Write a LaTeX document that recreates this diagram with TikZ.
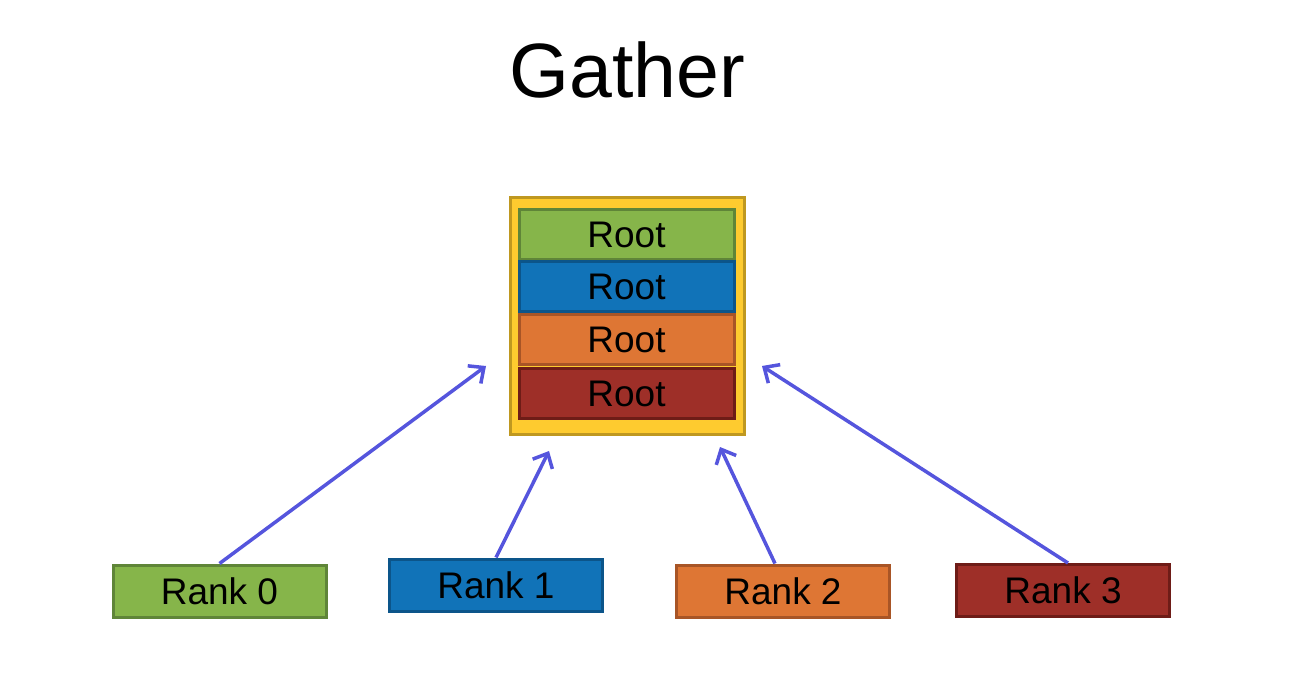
\documentclass[tikz,border=0pt]{standalone}
\usepackage{fontspec}
\setmainfont{Liberation Sans}
\usetikzlibrary{arrows.meta}
\definecolor{gGreen}{HTML}{86B54A}
\definecolor{gGreenD}{HTML}{5F8538}
\definecolor{gBlue}{HTML}{1173B8}
\definecolor{gBlueD}{HTML}{0C558A}
\definecolor{gOrange}{HTML}{DE7634}
\definecolor{gOrangeD}{HTML}{A85526}
\definecolor{gRed}{HTML}{9E2F28}
\definecolor{gRedD}{HTML}{6E1C17}
\definecolor{gYellow}{HTML}{FECB2F}
\definecolor{gGold}{HTML}{BF9820}
\definecolor{gArrow}{HTML}{5555DD}
\tikzset{
  rankbox/.style={draw=#1D, fill=#1, line width=3pt, minimum width=213pt, minimum height=52pt, inner sep=0pt, font=\fontsize{37}{42}\selectfont},
  rootbox/.style={draw=#1D, fill=#1, line width=3pt, minimum width=215pt, minimum height=50pt, inner sep=0pt, font=\fontsize{37}{42}\selectfont},
  garrow/.style={draw=gArrow, line width=3.5pt, -{Straight Barb[length=12pt,width=22pt,line width=3.5pt]}},
}
\begin{document}
\begin{tikzpicture}[x=1pt,y=-1pt]
\useasboundingbox (0,0) rectangle (1304,692);
\node (title) at (627,70) {\fontsize{77}{90}\selectfont Gather};
\node[draw=gGold, fill=gYellow, line width=3.5pt, minimum width=234pt, minimum height=237pt, inner sep=0pt] (outer) at (627.5,316) {};
\node[rootbox=gGreen] (r0) at (626.5,234.5) {Root};
\node[rootbox=gBlue] (r1) at (626.5,287) {Root};
\node[rootbox=gOrange] (r2) at (626.5,340) {Root};
\node[rootbox=gRed] (r3) at (626.5,394) {Root};
\node[rankbox=gGreen] (k0) at (219.5,591) {Rank 0};
\node[rankbox=gBlue] (k1) at (496,585) {Rank 1};
\node[rankbox=gOrange] (k2) at (783,591) {Rank 2};
\node[rankbox=gRed] (k3) at (1063,590.5) {Rank 3};
\coordinate (a0) at (486,366);
\coordinate (a1) at (549,451);
\coordinate (a2) at (720,447);
\coordinate (a3) at (762,366);
\draw[garrow] (k0.north) -- (a0);
\draw[garrow] (k1.north) -- (a1);
\draw[garrow] ([xshift=-8pt]k2.north) -- (a2);
\draw[garrow] ([xshift=5pt]k3.north) -- (a3);
\end{tikzpicture}
\end{document}
